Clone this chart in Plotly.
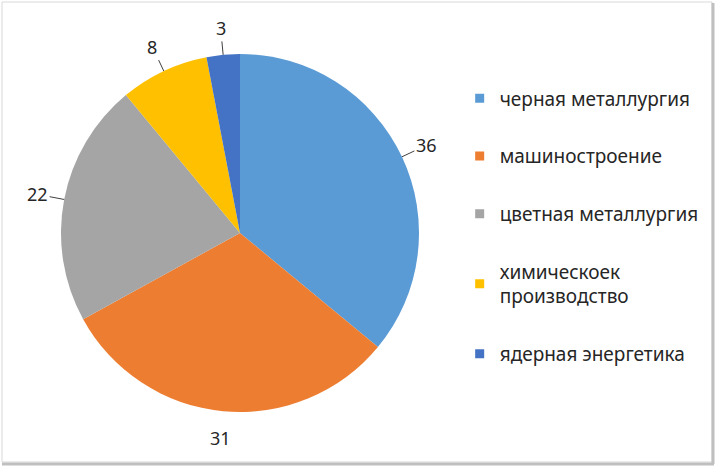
import math
import plotly.graph_objects as go

labels = ["черная металлургия", "машиностроение", "цветная металлургия",
          "химическоек<br>производство", "ядерная энергетика"]
values = [36, 31, 22, 8, 3]
colors = ["#5B9BD5", "#ED7D31", "#A5A5A5", "#FFC000", "#4472C4"]
leader = [True, False, True, True, True]

W, H = 716, 467
cx, cy, r = 240, 233, 179  # pie centre / radius in pixels

fig = go.Figure()
fig.add_trace(go.Pie(
    labels=labels, values=values, sort=False, direction="clockwise", rotation=0,
    marker=dict(colors=colors, line=dict(width=0)),
    textinfo="none", showlegend=False, hoverinfo="label+value",
    domain=dict(x=[(cx - r) / W, (cx + r) / W], y=[1 - (cy + r) / H, 1 - (cy - r) / H]),
))

# legend entries (separate so they can be spaced like the original)
for i, (lab, col) in enumerate(zip(labels, colors)):
    fig.add_trace(go.Scatter(
        x=[None], y=[None], mode="markers", name=lab, legendgroup=str(i),
        marker=dict(symbol="square", size=9, color=col),
    ))

# value labels outside the pie, placed from the cumulative angles
total = sum(values)
cum = 0
annotations = []
for v, show_line in zip(values, leader):
    mid = (cum + v / 2) / total * 2 * math.pi
    cum += v
    ex, ey = cx + r * math.sin(mid), cy - r * math.cos(mid)
    off = 27
    annotations.append(dict(
        x=ex / W, y=1 - ey / H, xref="paper", yref="paper",
        ax=off * math.sin(mid), ay=-off * math.cos(mid),
        text=str(v), showarrow=True, arrowhead=0, arrowwidth=1,
        arrowcolor="#404040" if show_line else "rgba(0,0,0,0)",
        font=dict(size=18, color="#262626"),
    ))

fig.update_layout(
    width=W, height=H, margin=dict(l=0, r=0, t=0, b=0),
    paper_bgcolor="white", plot_bgcolor="white",
    font=dict(family="Noto Sans, sans-serif", color="#262626"),
    xaxis=dict(visible=False), yaxis=dict(visible=False),
    annotations=annotations,
    legend=dict(x=0.642, y=0.83, xanchor="left", yanchor="top",
                font=dict(size=19), tracegroupgap=30, itemwidth=30,
                bgcolor="rgba(0,0,0,0)"),
    shapes=[
        dict(type="rect", xref="paper", yref="paper", x0=2 / W, y0=1 - 2 / H,
             x1=712 / W, y1=1 - 462 / H, line=dict(color="#D9D9D9", width=1)),
        dict(type="line", xref="paper", yref="paper", x0=713 / W, x1=713 / W,
             y0=1 - 3 / H, y1=1 - 464 / H, line=dict(color="#BFBFBF", width=3)),
        dict(type="line", xref="paper", yref="paper", x0=2 / W, x1=714 / W,
             y0=1 - 464 / H, y1=1 - 464 / H, line=dict(color="#BFBFBF", width=3)),
    ],
)

fig.write_html("out.html", config={"displayModeBar": False},
               post_script="document.body.style.margin='0';document.body.style.overflow='hidden';")
